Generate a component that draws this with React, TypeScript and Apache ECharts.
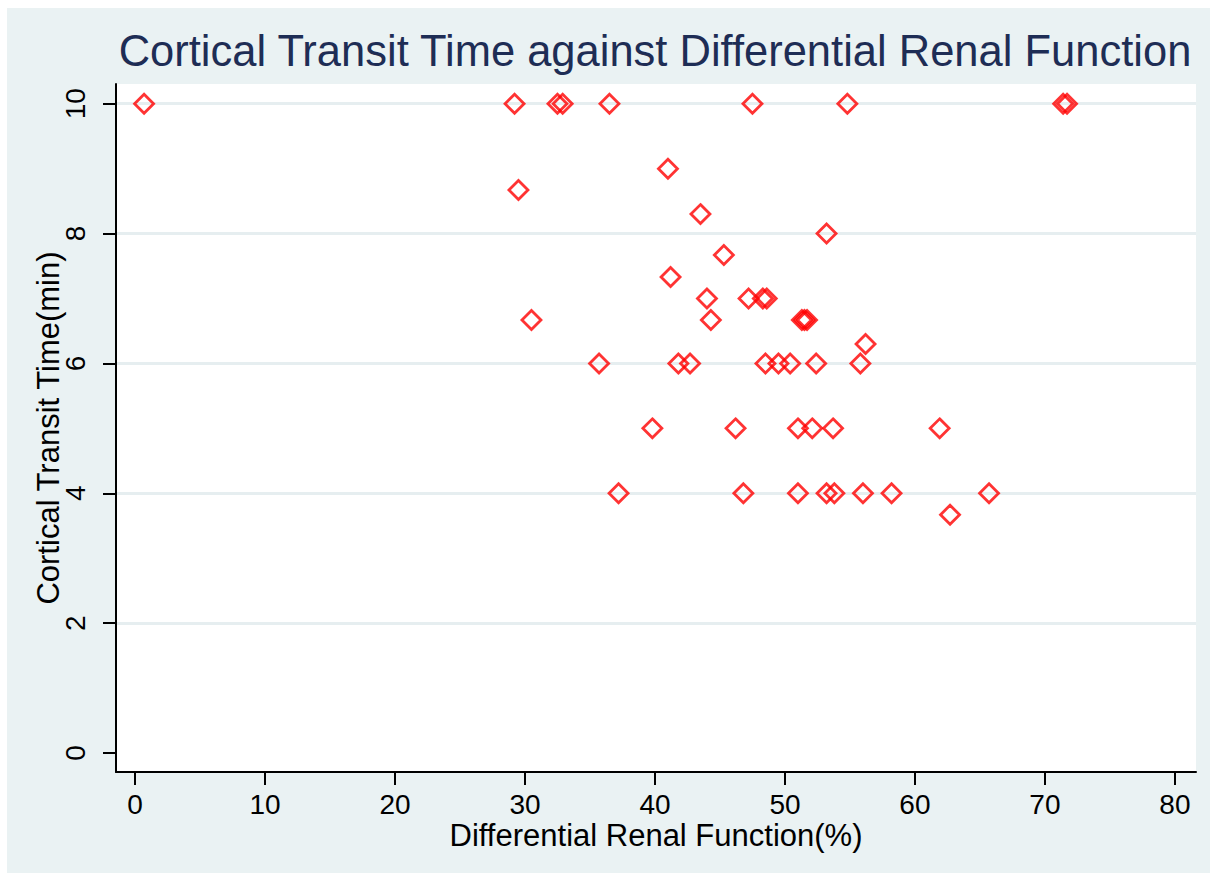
import React, { useEffect, useRef } from "react";
import * as echarts from "echarts";

const titleText = "Cortical Transit Time against Differential Renal Function";
const xAxisTitle = "Differential Renal Function(%)";
const yAxisTitle = "Cortical Transit Time(min)";

const xTicks = [0, 10, 20, 30, 40, 50, 60, 70, 80];
const yTicks = [0, 2, 4, 6, 8, 10];
const yGridValues = [2, 4, 6, 8, 10];

// Differential renal function (%)
const drf = [
  0.7, 29.2, 32.5, 32.9, 36.5, 47.5, 54.8, 71.4, 71.7,
  41.0,
  29.5,
  43.5,
  53.2,
  45.3,
  41.2,
  44.0, 47.2, 48.3, 48.6,
  30.5, 44.3, 51.3, 51.5, 51.7,
  56.2,
  35.7, 41.8, 42.7, 48.5, 49.5, 50.4, 52.4, 55.8,
  39.8, 46.2, 51.0, 52.1, 53.7, 61.9,
  37.2, 46.8, 51.0, 53.2, 53.8, 56.0, 58.2, 65.7,
  62.7,
];

// Cortical transit time (min)
const ctt = [
  10, 10, 10, 10, 10, 10, 10, 10, 10,
  9.0,
  8.67,
  8.3,
  8.0,
  7.67,
  7.33,
  7, 7, 7, 7,
  6.67, 6.67, 6.67, 6.67, 6.67,
  6.3,
  6, 6, 6, 6, 6, 6, 6, 6,
  5, 5, 5, 5, 5, 5,
  4, 4, 4, 4, 4, 4, 4, 4,
  3.67,
];

const FONT = "'Liberation Sans', Arial, sans-serif";

export default function App() {
  const ref = useRef<HTMLDivElement>(null);

  useEffect(() => {
    if (!ref.current) return;
    const chart = echarts.init(ref.current, undefined, { renderer: "svg" });
    const points = drf.map((x, i) => [x, ctt[i]]);

    chart.setOption({
      animation: false,
      backgroundColor: "#EAF2F3",
      textStyle: { fontFamily: FONT },
      graphic: [
        {
          type: "text",
          x: 648,
          y: 43,
          style: {
            text: titleText,
            fontSize: 43.5,
            fontFamily: FONT,
            fill: "#1E2D55",
            textAlign: "center",
            textVerticalAlign: "middle",
          },
        },
      ],
      grid: {
        left: 109,
        top: 76,
        width: 1080,
        height: 688,
        show: true,
        backgroundColor: "#FFFFFF",
        borderWidth: 0,
      },
      xAxis: {
        type: "value",
        min: -1.46,
        max: 81.62,
        axisLine: { show: true, onZero: false, lineStyle: { color: "#000", width: 2 } },
        axisTick: { show: true, customValues: xTicks, length: 13, lineStyle: { color: "#000", width: 2 } },
        axisLabel: { customValues: xTicks, fontSize: 28, color: "#000", margin: 18, fontFamily: FONT },
        splitLine: { show: false },
        name: xAxisTitle,
        nameLocation: "middle",
        nameGap: 48,
        nameMoveOverlap: false,
        nameTextStyle: { fontSize: 31, color: "#000", fontFamily: FONT },
      },
      yAxis: [
        {
          type: "value",
          min: -0.293,
          max: 10.304,
          position: "left",
          axisLine: { show: true, onZero: false, lineStyle: { color: "#000", width: 2 } },
          axisTick: { show: true, customValues: yTicks, length: 13, lineStyle: { color: "#000", width: 2 } },
          axisLabel: { customValues: yTicks, rotate: 90, fontSize: 28, color: "#000", margin: 27, fontFamily: FONT },
          splitLine: { show: false },
          name: yAxisTitle,
          nameLocation: "middle",
          nameGap: 52,
          nameRotate: 90,
          nameMoveOverlap: false,
          nameTextStyle: { fontSize: 31, color: "#000", fontFamily: FONT },
        },
        {
          type: "value",
          min: -0.293,
          max: 10.304,
          position: "right",
          axisLine: { show: false },
          axisTick: { show: false, customValues: yGridValues },
          axisLabel: { show: false, customValues: yGridValues },
          splitLine: { show: true, lineStyle: { color: "#E6EEF0", width: 3 } },
        },
      ],
      series: [
        {
          type: "scatter",
          xAxisIndex: 0,
          yAxisIndex: 0,
          data: points,
          clip: false,
          symbol: "diamond",
          symbolSize: 19,
          itemStyle: { color: "rgba(0,0,0,0)", borderColor: "#FF0000", borderWidth: 2.8 },
          emphasis: { disabled: true },
        },
      ],
    });

    return () => chart.dispose();
  }, []);

  return (
    <div style={{ position: "absolute", left: 0, top: 0, width: 1210, height: 873, background: "#FFFFFF" }}>
      <div ref={ref} style={{ position: "absolute", left: 7, top: 8, width: 1203, height: 865 }} />
    </div>
  );
}
